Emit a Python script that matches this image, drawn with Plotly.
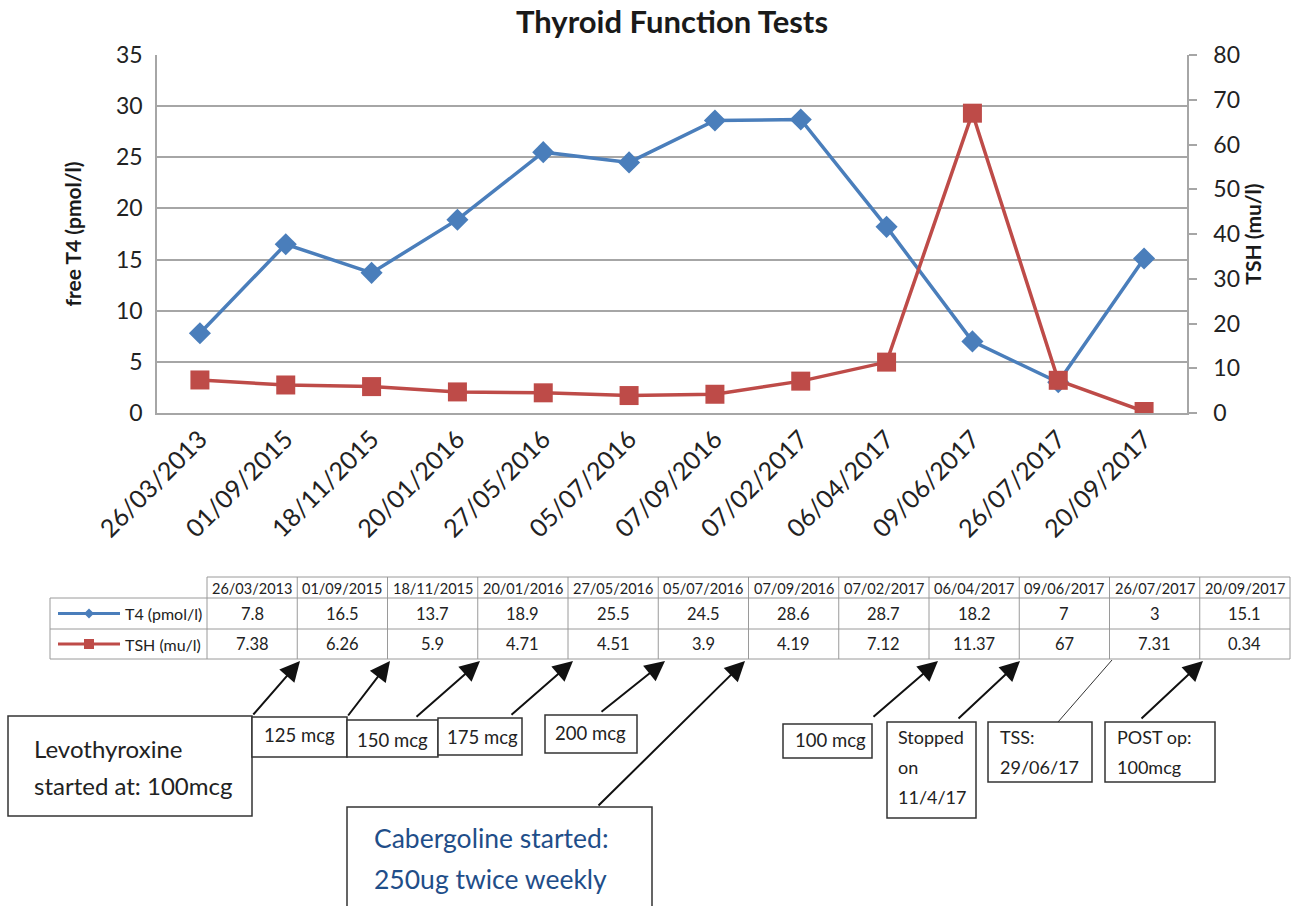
import plotly.graph_objects as go

# ---------------- data ----------------
dates = ["26/03/2013", "01/09/2015", "18/11/2015", "20/01/2016", "27/05/2016", "05/07/2016",
         "07/09/2016", "07/02/2017", "06/04/2017", "09/06/2017", "26/07/2017", "20/09/2017"]
t4_values = [7.8, 16.5, 13.7, 18.9, 25.5, 24.5, 28.6, 28.7, 18.2, 7, 3, 15.1]
tsh_values = [7.38, 6.26, 5.9, 4.71, 4.51, 3.9, 4.19, 7.12, 11.37, 67, 7.31, 0.34]
t4_label = "T4 (pmol/l)"
tsh_label = "TSH (mu/l)"
t4_value_text = ["7.8", "16.5", "13.7", "18.9", "25.5", "24.5", "28.6", "28.7", "18.2", "7", "3", "15.1"]
tsh_value_text = ["7.38", "6.26", "5.9", "4.71", "4.51", "3.9", "4.19", "7.12", "11.37", "67", "7.31", "0.34"]

BLUE = "#4A7EBB"
RED = "#BE4B48"
GRID = "#A6A6A6"
FONT = "Lato, 'Open Sans', sans-serif"
TXT = "#222222"

W, H = 1297, 906
L, R, T, B = 157, 1187, 55, 413


def px(x):
    return (x - L) / (R - L)


def py(y):
    return (B - y) / (B - T)


fig = go.Figure()
fig.add_trace(go.Scatter(
    x=dates, y=t4_values, name=t4_label, mode="lines+markers",
    line=dict(color=BLUE, width=3.5),
    marker=dict(symbol="diamond", size=17, color=BLUE),
    yaxis="y"))
fig.add_trace(go.Scatter(
    x=dates, y=tsh_values, name=tsh_label, mode="lines+markers",
    line=dict(color=RED, width=3.5),
    marker=dict(symbol="square", size=19, color=RED),
    yaxis="y2"))

fig.update_layout(
    width=W, height=H,
    margin=dict(l=L, r=W - R, t=T, b=H - B, pad=0),
    paper_bgcolor="white", plot_bgcolor="white",
    showlegend=False,
    font=dict(family=FONT, color=TXT),
    title=dict(text="<b>Thyroid Function Tests</b>", x=672 / W, xanchor="center",
               y=1 - 22 / H, yanchor="middle", xref="container", yref="container",
               font=dict(family=FONT, size=31, color="#1a1a1a")),
    xaxis=dict(type="category", tickangle=-45, tickfont=dict(size=25, color=TXT),
               showline=True, linecolor=GRID, linewidth=1.5, showgrid=False,
               ticks="", range=[-0.5, 11.5]),
    yaxis=dict(range=[0, 35], dtick=5, tickfont=dict(size=23, color=TXT),
               showgrid=True, gridcolor=GRID, gridwidth=1.5, zeroline=False,
               showline=True, linecolor=GRID, linewidth=1.5,
               ticks="outside", ticklen=8, tickcolor="rgba(0,0,0,0)",
               title=dict(text="<b>free T4 (pmol/l)</b>", font=dict(size=21, color="#1a1a1a"),
                          standoff=29)),
    yaxis2=dict(range=[0, 80], dtick=10, overlaying="y", side="right",
                tickfont=dict(size=23, color=TXT), showgrid=False, zeroline=False,
                showline=True, linecolor=GRID, linewidth=1.5,
                ticks="outside", ticklen=8, tickcolor=GRID, tickwidth=1.5,
                ticklabelstandoff=12,
                title=dict(text="<b>TSH (mu/l)</b>", font=dict(size=21, color="#1a1a1a"),
                           standoff=0)),
)

shapes = []
annos = []

# ---------------- data table ----------------
tab_left, lab_right, tab_right = 50, 207, 1290
y_head_top, y_r1_top, y_r2_top, y_bot = 577, 598, 629, 659
n = len(dates)
col_w = (tab_right - lab_right) / n
line_style = dict(color="#9a9a9a", width=1)


def hline(x0, x1, y):
    shapes.append(dict(type="line", xref="paper", yref="paper", x0=px(x0), x1=px(x1),
                       y0=py(y), y1=py(y), line=line_style))


def vline(x, y0, y1):
    shapes.append(dict(type="line", xref="paper", yref="paper", x0=px(x), x1=px(x),
                       y0=py(y0), y1=py(y1), line=line_style))


hline(lab_right, tab_right, y_head_top)
hline(tab_left, tab_right, y_r1_top)
hline(tab_left, tab_right, y_r2_top)
hline(tab_left, tab_right, y_bot)
vline(tab_left, y_r1_top, y_bot)
for i in range(n + 1):
    vline(lab_right + i * col_w, y_head_top, y_bot)


def text(t, x, y, size, color=TXT, xanchor="center"):
    annos.append(dict(text=t, x=px(x), y=py(y), xref="paper", yref="paper",
                      xanchor=xanchor, yanchor="middle", showarrow=False,
                      font=dict(size=size, color=color)))


for i, d in enumerate(dates):
    cx = lab_right + (i + 0.5) * col_w
    text(d, cx, (y_head_top + y_r1_top) / 2 + 0.5, 14.5)
    text(t4_value_text[i], cx, (y_r1_top + y_r2_top) / 2, 16.5)
    text(tsh_value_text[i], cx, (y_r2_top + y_bot) / 2, 16.5)

# legend keys in the label column
for (yc, col, lab, sym) in [((y_r1_top + y_r2_top) / 2, BLUE, t4_label, "diamond"),
                            ((y_r2_top + y_bot) / 2, RED, tsh_label, "square")]:
    shapes.append(dict(type="line", xref="paper", yref="paper", x0=px(58), x1=px(120),
                       y0=py(yc), y1=py(yc), line=dict(color=col, width=3)))
    if sym == "diamond":
        path = "M {},{} L {},{} L {},{} L {},{} Z".format(
            px(89), py(yc - 5), px(94), py(yc), px(89), py(yc + 5), px(84), py(yc))
        shapes.append(dict(type="path", xref="paper", yref="paper", path=path,
                           fillcolor=col, line=dict(color=col, width=0)))
    else:
        shapes.append(dict(type="rect", xref="paper", yref="paper", x0=px(84), x1=px(94),
                           y0=py(yc + 5), y1=py(yc - 5), fillcolor=col,
                           line=dict(color=col, width=0)))
    text(lab, 123, yc, 16, xanchor="left")

# ---------------- callout boxes ----------------
boxes = [
    # (x0, y0, x1, y1, lines, text_x, first_line_y, line_gap, size, color)
    (8, 716, 252, 816, ["Levothyroxine", "started at: 100mcg"], 32, 748, 37, 24, TXT),
    (252, 717, 347, 757, ["125 mcg"], 262, 735, 0, 18.5, TXT),
    (347, 720, 438, 757, ["150 mcg"], 355, 740, 0, 18.5, TXT),
    (438, 718, 522, 755, ["175 mcg"], 445, 737, 0, 18.5, TXT),
    (545, 715, 637, 753, ["200 mcg"], 553, 733, 0, 18.5, TXT),
    (347, 807, 652, 910, ["Cabergoline started:", "250ug twice weekly"], 372, 838, 41, 26.5, "#1F4E89"),
    (783, 724, 872, 758, ["100 mcg"], 793, 740, 0, 18.5, TXT),
    (887, 722, 976, 818, ["Stopped", "on", "11/4/17"], 896, 737, 30, 18, TXT),
    (988, 722, 1092, 782, ["TSS:", "29/06/17"], 998, 737, 30, 18, TXT),
    (1105, 722, 1215, 782, ["POST op:", "100mcg"], 1115, 737, 30, 18, TXT),
]
for (x0, y0, x1, y1, lines, tx, ty, gap, size, col) in boxes:
    shapes.append(dict(type="rect", xref="paper", yref="paper", x0=px(x0), x1=px(x1),
                       y0=py(y1), y1=py(y0), line=dict(color="#333333", width=1.5),
                       fillcolor="white"))
    for k, t in enumerate(lines):
        text(t, tx, ty + k * gap, size, color=col, xanchor="left")

# arrows: (tail_x, tail_y, tip_x, tip_y)
arrows = [
    (252, 716, 300, 661),
    (347, 717, 390, 661),
    (415, 718, 480, 661),
    (510, 716, 573, 661),
    (600, 713, 665, 661),
    (597, 807, 745, 661),
    (872, 718, 938, 661),
    (957, 720, 1020, 661),
    (1140, 720, 1203, 661),
]
for (tx, ty, hx, hy) in arrows:
    annos.append(dict(text="", x=px(hx), y=py(hy), xref="paper", yref="paper",
                      ax=tx - hx, ay=ty - hy, axref="pixel", ayref="pixel",
                      showarrow=True, arrowhead=2, arrowsize=2, arrowwidth=2,
                      arrowcolor="#111111", standoff=0, startstandoff=0))
# thin connector without arrow head
shapes.append(dict(type="line", xref="paper", yref="paper", x0=px(1058), y0=py(722),
                   x1=px(1112), y1=py(660), line=dict(color="#333333", width=1)))

fig.update_layout(shapes=shapes, annotations=annos)

fig.write_html("out.html", config={"displayModeBar": False},
               post_script="document.body.style.margin='0';document.body.style.overflow='hidden';")
